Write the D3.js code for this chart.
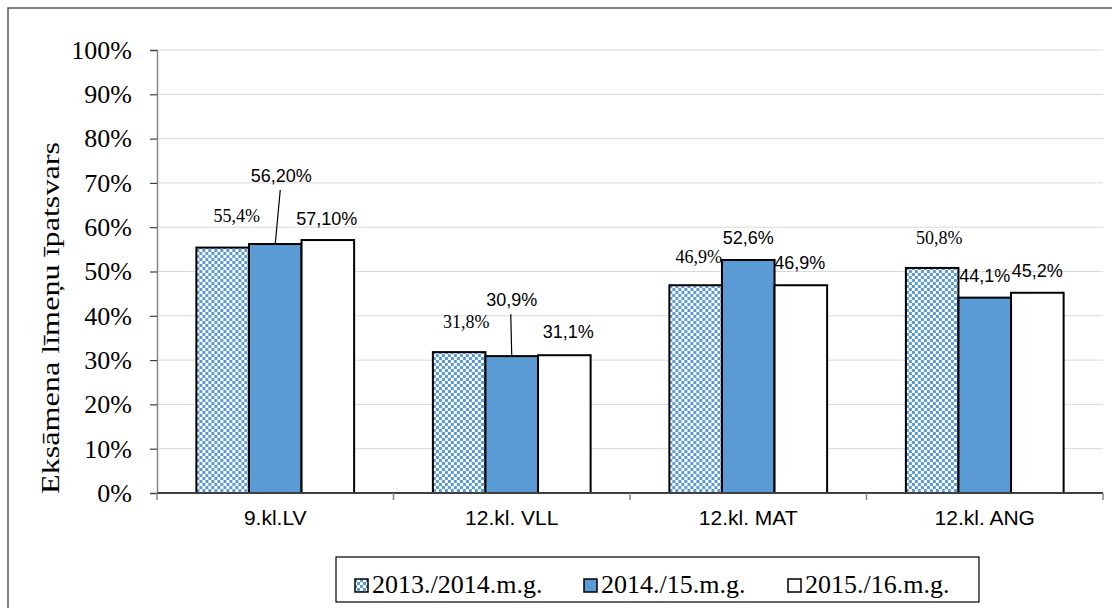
<!DOCTYPE html>
<meta charset="utf-8">
<style>
    body { margin: 0; background: #fff; }
    svg { display: block; }
    .grid line { stroke: #d9d9d9; stroke-width: 1; }
    .serif { font-family: "Liberation Serif", "Times New Roman", serif; }
    .sans { font-family: "Liberation Sans", Arial, sans-serif; }
</style>
<body>
<svg width="1112" height="608"></svg>
<script src="https://d3js.org/d3.v7.min.js"></script>
<script>
    var categories = ["9.kl.LV", "12.kl. VLL", "12.kl. MAT", "12.kl. ANG"];
    var seriesNames = ["2013./2014.m.g.", "2014./15.m.g.", "2015./16.m.g."];
    var s2013 = [0.554, 0.318, 0.469, 0.508];
    var s2014 = [0.562, 0.309, 0.526, 0.441];
    var s2015 = [0.571, 0.311, 0.469, 0.452];
    var labels2013 = ["55,4%", "31,8%", "46,9%", "50,8%"];
    var labels2014 = ["56,20%", "30,9%", "52,6%", "44,1%"];
    var labels2015 = ["57,10%", "31,1%", "46,9%", "45,2%"];
    var yTicks = [0, 0.1, 0.2, 0.3, 0.4, 0.5, 0.6, 0.7, 0.8, 0.9, 1];

    // labels were dragged by hand in the original, offsets from bar top/centre
    var nudge = [
        [[14, -26], [6, -62], [-1, -15]],
        [[7, -24], [0, -50], [4, -17]],
        [[3, -22], [0, -16], [-1, -16]],
        [[7, -24], [0, -16], [0, -16]]
    ];

    var series = [s2013, s2014, s2015];
    var seriesLabels = [labels2013, labels2014, labels2015];

    var svg = d3.select("svg");
    var plotLeft = 157, plotRight = 1103, plotTop = 50, plotBottom = 493;

    // checker pattern for the first series
    var defs = svg.append("defs");
    var pat = defs.append("pattern")
        .attr("id", "checker")
        .attr("patternUnits", "userSpaceOnUse")
        .attr("width", 6).attr("height", 6);
    pat.append("rect").attr("width", 6).attr("height", 6).attr("fill", "#5b9bd5");
    pat.append("rect").attr("x", 0).attr("y", 0).attr("width", 3).attr("height", 3).attr("fill", "#fff");
    pat.append("rect").attr("x", 3).attr("y", 3).attr("width", 3).attr("height", 3).attr("fill", "#fff");

    var fills = ["url(#checker)", "#5b9bd5", "#ffffff"];

    // outer frame
    svg.append("rect")
        .attr("x", 8).attr("y", 8)
        .attr("width", 1112).attr("height", 620)
        .attr("fill", "none")
        .attr("stroke", "#595959")
        .attr("stroke-width", 1.5);

    var x = d3.scaleBand().domain(categories).range([plotLeft, plotRight]).paddingInner(0.333).paddingOuter(0.1665);
    var x1 = d3.scaleBand().domain([0, 1, 2]).range([0, x.bandwidth()]);
    var y = d3.scaleLinear().domain([0, 1]).range([plotBottom, plotTop]);

    // gridlines
    svg.append("g").attr("class", "grid")
        .selectAll("line").data(yTicks.slice(1)).enter().append("line")
        .attr("x1", plotLeft).attr("x2", plotRight)
        .attr("y1", function(d) { return y(d); })
        .attr("y2", function(d) { return y(d); });

    // y axis
    var yAxis = svg.append("g")
        .attr("transform", "translate(" + plotLeft + ",0)")
        .call(d3.axisLeft(y).tickValues(yTicks).tickSize(7).tickPadding(18)
            .tickFormat(function(d) { return Math.round(d * 100) + "%"; }));
    yAxis.select(".domain").attr("stroke", "#868686").attr("stroke-width", 1.5);
    yAxis.selectAll(".tick line").attr("stroke", "#404040").attr("stroke-width", 1.2);
    yAxis.selectAll("text")
        .attr("class", "serif")
        .attr("font-size", 26)
        .attr("fill", "#000");

    // bars
    var groups = svg.append("g").selectAll("g").data(categories).enter().append("g")
        .attr("transform", function(d) { return "translate(" + x(d) + ",0)"; });

    groups.selectAll("rect")
        .data(function(d, i) { return series.map(function(s, k) { return { k: k, v: s[i] }; }); })
        .enter().append("rect")
        .attr("x", function(d) { return x1(d.k); })
        .attr("y", function(d) { return y(d.v); })
        .attr("width", x1.bandwidth())
        .attr("height", function(d) { return plotBottom - y(d.v); })
        .attr("fill", function(d) { return fills[d.k]; })
        .attr("stroke", "#000")
        .attr("stroke-width", 2);

    // x axis
    var bounds = categories.map(function(c) { return x(c) - x.step() * x.paddingInner() / 2; });
    bounds.push(plotRight);
    svg.append("line")
        .attr("x1", plotLeft).attr("x2", plotRight)
        .attr("y1", plotBottom).attr("y2", plotBottom)
        .attr("stroke", "#404040").attr("stroke-width", 2);
    svg.append("g").selectAll("line").data(bounds).enter().append("line")
        .attr("x1", function(d) { return d; }).attr("x2", function(d) { return d; })
        .attr("y1", plotBottom).attr("y2", plotBottom + 7)
        .attr("stroke", "#868686").attr("stroke-width", 1.5);
    svg.append("g").selectAll("text").data(categories).enter().append("text")
        .attr("class", "sans")
        .attr("x", function(d) { return x(d) + x.bandwidth() / 2; })
        .attr("y", 525)
        .attr("text-anchor", "middle")
        .attr("font-size", 21)
        .text(function(d) { return d; });

    // data labels
    categories.forEach(function(c, i) {
        series.forEach(function(s, k) {
            var bx = x(c) + x1(k) + x1.bandwidth() / 2;
            var by = y(s[i]);
            var lx = bx + nudge[i][k][0];
            var ly = by + nudge[i][k][1];
            svg.append("text")
                .attr("class", k === 0 ? "serif" : "sans")
                .attr("x", lx).attr("y", ly)
                .attr("text-anchor", "middle")
                .attr("font-size", 18)
                .text(seriesLabels[k][i]);
            if (nudge[i][k][1] < -40) {
                svg.append("line")
                    .attr("x1", lx - 1).attr("y1", ly + 8)
                    .attr("x2", bx).attr("y2", by)
                    .attr("stroke", "#000").attr("stroke-width", 1.2);
            }
        });
    });

    // y title (stretched along its length in the original)
    svg.append("text")
        .attr("class", "serif")
        .attr("transform", "translate(59,318) rotate(-90)")
        .attr("text-anchor", "middle")
        .attr("font-size", 25)
        .attr("textLength", 352)
        .attr("lengthAdjust", "spacingAndGlyphs")
        .text("Eksāmena līmeņu īpatsvars");

    // legend
    var lg = svg.append("g");
    lg.append("rect")
        .attr("x", 336).attr("y", 557)
        .attr("width", 643).attr("height", 45)
        .attr("fill", "#fff").attr("stroke", "#000").attr("stroke-width", 1.2);
    var legendX = [355, 584, 788];
    seriesNames.forEach(function(n, k) {
        lg.append("rect")
            .attr("x", legendX[k]).attr("y", 579)
            .attr("width", 13).attr("height", 13)
            .attr("fill", fills[k]).attr("stroke", "#000").attr("stroke-width", 1.5);
        lg.append("text")
            .attr("class", "serif")
            .attr("x", legendX[k] + 17).attr("y", 593)
            .attr("font-size", 26)
            .text(n);
    });
</script>
</body>
